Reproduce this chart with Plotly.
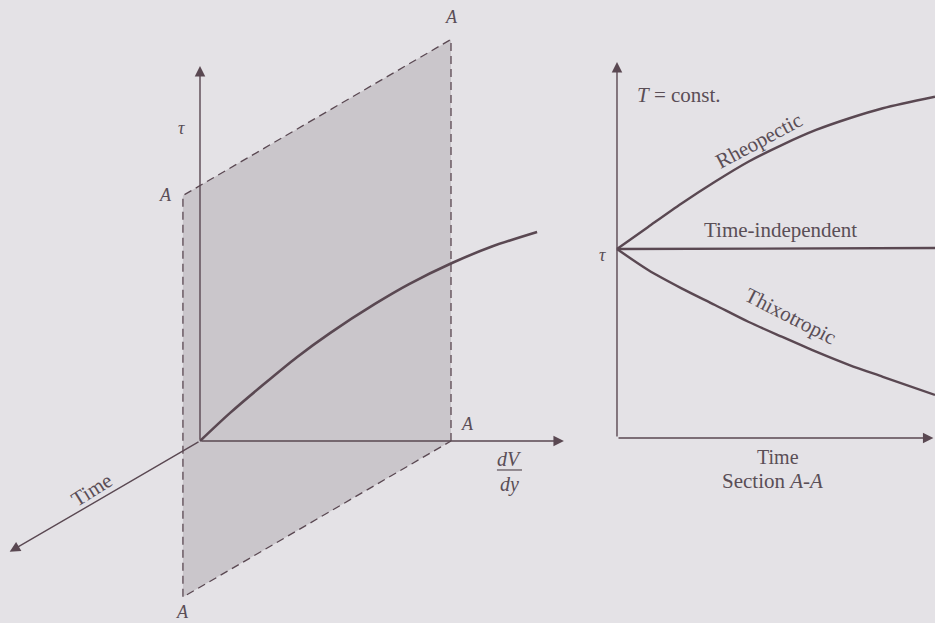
import plotly.graph_objects as go

# ---------------- data ----------------
# Left panel: flow curve tau(dV/dy) at t = 0; shear rate scaled so section A-A sits at 1
shear_rate = [0.0, 0.12, 0.255, 0.386, 0.518, 0.697, 0.833, 1.004, 1.163, 1.343]
shear_stress = [0.0, 0.112, 0.227, 0.334, 0.430, 0.546, 0.625, 0.709, 0.775, 0.833]

section_rate = 1.0          # position of plane A-A on the dV/dy axis
section_time = [0.0, 1.0]   # time extent of plane A-A
section_tau = [0.0, 1.6]    # stress extent of plane A-A

tau_axis_len = 1.494
rate_axis_len = 1.45
time_axis_len = 0.71

# Right panel: shear stress vs time at constant temperature (section A-A)
t_rheo = [0.0, 0.098, 0.203, 0.308, 0.413, 0.518, 0.626, 0.731, 0.836, 1.0]
rheopectic = [1.0, 1.117, 1.241, 1.356, 1.462, 1.550, 1.630, 1.692, 1.745, 1.806]
t_flat = [0.0, 1.0]
time_independent = [1.0, 1.005]
t_thix = [0.0, 0.098, 0.203, 0.308, 0.413, 0.518, 0.626, 0.731, 0.836, 1.0]
thixotropic = [1.0, 0.889, 0.792, 0.704, 0.615, 0.536, 0.457, 0.386, 0.324, 0.228]

# ---------------- style ----------------
BG = "#e4e2e6"
INK = "#5a4852"
TXT = "#5a4e56"
SHADE = "#cac6cb"
SERIF = "Liberation Serif, Times New Roman, serif"

# oblique projection: one unit of time moves the point down-left on the page
TIME_DX, TIME_DY = -1.068, -0.622


def proj(g, t, tau):
    return g + t * TIME_DX, tau + t * TIME_DY


fig = go.Figure()

# ---- left panel: plane A-A ----
corners = [(section_rate, section_time[0], section_tau[0]),
           (section_rate, section_time[0], section_tau[1]),
           (section_rate, section_time[1], section_tau[1]),
           (section_rate, section_time[1], section_tau[0]),
           (section_rate, section_time[0], section_tau[0])]
px = [proj(*c)[0] for c in corners]
py = [proj(*c)[1] for c in corners]
fig.add_trace(go.Scatter(x=px, y=py, mode="lines", fill="toself", fillcolor=SHADE,
                         line=dict(width=0), hoverinfo="skip", showlegend=False))
fig.add_trace(go.Scatter(x=px, y=py, mode="lines",
                         line=dict(color=INK, width=1.3, dash="8px,5px"),
                         hoverinfo="skip", showlegend=False))

# flow curve
cx = [proj(g, 0, s)[0] for g, s in zip(shear_rate, shear_stress)]
cy = [proj(g, 0, s)[1] for g, s in zip(shear_rate, shear_stress)]
fig.add_trace(go.Scatter(x=cx, y=cy, mode="lines",
                         line=dict(color=INK, width=2.6, shape="spline", smoothing=0.8),
                         hoverinfo="skip", showlegend=False))

# ---- right panel: section A-A ----
for xs, ys in ((t_rheo, rheopectic), (t_flat, time_independent), (t_thix, thixotropic)):
    fig.add_trace(go.Scatter(x=xs, y=ys, mode="lines", xaxis="x2", yaxis="y2",
                             line=dict(color=INK, width=2.4, shape="spline", smoothing=0.8),
                             hoverinfo="skip", showlegend=False))


def arrow(x0, y0, x1, y1, xr="x", yr="y"):
    return dict(x=x1, y=y1, ax=x0, ay=y0, xref=xr, yref=yr, axref=xr, ayref=yr,
                showarrow=True, arrowhead=2, arrowsize=1.5, arrowwidth=1.4,
                arrowcolor=INK, text="", standoff=0, startstandoff=0)


def label(x, y, text, size=20, xr="x", yr="y", angle=0, **kw):
    return dict(x=x, y=y, xref=xr, yref=yr, text=text, showarrow=False, textangle=angle,
                font=dict(family=SERIF, size=size, color=TXT), **kw)


ann = []
o = proj(0, 0, 0)
ann.append(arrow(*o, *proj(0, 0, tau_axis_len)))
ann.append(arrow(*o, *proj(rate_axis_len, 0, 0)))
ann.append(arrow(*o, *proj(0, time_axis_len, 0)))

ann.append(label(-0.072, 1.247, "<i>τ</i>", 18))
ann.append(label(1.0, 1.69, "<i>A</i>", 18))
ann.append(label(-0.139, 0.98, "<i>A</i>", 18))
ann.append(label(1.064, 0.068, "<i>A</i>", 18))
ann.append(label(-0.068, -0.68, "<i>A</i>", 18))
ann.append(label(-0.432, -0.195, "Time", 21, angle=-32))
ann.append(label(1.233, -0.07, "<i>dV</i>", 20))
ann.append(label(1.233, -0.172, "<i>dy</i>", 20))

# right panel axes and labels
ann.append(arrow(0, 0, 0, 1.989, "x2", "y2"))
ann.append(arrow(0, 0, 0.995, 0, "x2", "y2"))
ann.append(label(-0.047, 0.968, "<i>τ</i>", 18, "x2", "y2"))
ann.append(label(0.057, 1.815, "<i>T</i> = const.", 21, "x2", "y2", xanchor="left"))
ann.append(label(0.445, 1.57, "Rheopectic", 21, "x2", "y2", angle=-28))
ann.append(label(0.513, 1.10, "Time-independent", 21, "x2", "y2"))
ann.append(label(0.545, 0.645, "Thixotropic", 21, "x2", "y2", angle=27))
ann.append(label(0.506, -0.098, "Time", 20, "x2", "y2"))
ann.append(label(0.49, -0.228, "Section <i>A</i>-<i>A</i>", 21, "x2", "y2"))

# fraction bar of dV/dy
fig.add_trace(go.Scatter(x=[1.183, 1.283], y=[-0.1155, -0.1155], mode="lines",
                         line=dict(color=TXT, width=1.2), hoverinfo="skip", showlegend=False))

hidden = dict(visible=False, fixedrange=True)
fig.update_layout(
    width=935, height=623, margin=dict(l=0, r=0, t=0, b=0),
    paper_bgcolor=BG, plot_bgcolor=BG, showlegend=False,
    xaxis=dict(domain=[0, 1], range=[-0.7968, 2.9283], **hidden),
    yaxis=dict(domain=[0, 1], range=[-0.7251, 1.757], **hidden),
    xaxis2=dict(domain=[585 / 935, 1], range=[-0.1006, 1.0], anchor="y2", **hidden),
    yaxis2=dict(domain=[113 / 623, 583 / 623], range=[-0.381, 2.106], anchor="x2", **hidden),
    annotations=ann,
)

fig.write_html("out.html")
